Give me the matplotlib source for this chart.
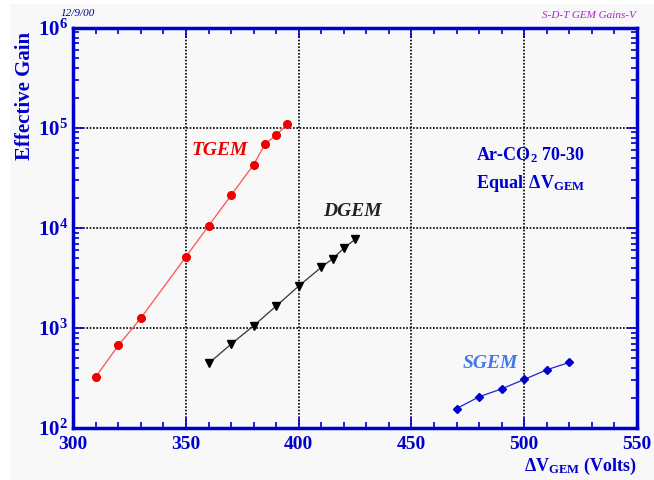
import math
import matplotlib
matplotlib.use("Agg")
import matplotlib.pyplot as plt
from matplotlib.patches import Rectangle
from matplotlib.ticker import FuncFormatter, MultipleLocator, LogLocator, NullFormatter

plt.rcParams['font.family'] = ['Liberation Serif', 'DejaVu Serif']
plt.rcParams['mathtext.fontset'] = 'custom'
plt.rcParams['mathtext.rm'] = 'Liberation Serif:bold'
plt.rcParams['mathtext.bf'] = 'Liberation Serif:bold'
plt.rcParams['mathtext.it'] = 'Liberation Serif:bold:italic'

# data
tgem_v = [310, 320, 330, 350, 360, 370, 380, 385, 390, 395]
tgem_gain = [326, 671, 1260, 5170, 10500, 21200, 43000, 68700, 85000, 109000]

dgem_v = [360, 370, 380, 390, 400, 410, 415, 420, 425]
dgem_gain = [443, 692, 1055, 1660, 2630, 4050, 4930, 6270, 7710]

sgem_v = [470, 480, 490, 500, 510, 520]
sgem_gain = [157, 206, 247, 307, 383, 454]

blue = '#0000cc'
bg = '#f8f8f8'

fig = plt.figure(figsize=(6.54, 4.80), dpi=100, facecolor='white')
# grey page area with a thin white border on the left and top
fig.patches.append(Rectangle((10 / 654, 0), 1, 1 - 4 / 480, transform=fig.transFigure,
                             facecolor=bg, edgecolor='none', zorder=-10))

ax = fig.add_axes([0.112, 0.108, 0.862, 0.834])
ax.set_facecolor(bg)

ax.plot(tgem_v, tgem_gain, color='#ff5050', lw=0.9, marker='o', ms=5.5,
        mfc='#ee0000', mec='#ee0000')
ax.plot(dgem_v, dgem_gain, color='#333333', lw=0.9, marker='v', ms=5.5,
        mfc='black', mec='black')
ax.plot(sgem_v, sgem_gain, color='#2020dd', lw=0.9, marker='D', ms=4,
        mfc='#0000cc', mec='#0000cc')

ax.set_yscale('log')
ax.set_xlim(300, 550)
ax.set_ylim(1e2, 1e6)

ax.xaxis.set_major_locator(MultipleLocator(50))
ax.xaxis.set_minor_locator(MultipleLocator(10))
ax.yaxis.set_major_locator(LogLocator(base=10))
ax.yaxis.set_minor_locator(LogLocator(base=10, subs=range(2, 10)))
ax.yaxis.set_minor_formatter(NullFormatter())
ax.yaxis.set_major_formatter(FuncFormatter(lambda v, p: r'$\mathbf{10^{%d}}$' % round(math.log10(v))))

ax.tick_params(which='both', direction='in', top=True, right=True, color=blue,
               labelcolor=blue)
ax.tick_params(which='major', length=7, width=1.2)
ax.tick_params(which='minor', length=4, width=1.2)
ax.tick_params(axis='x', labelsize=14, pad=6)
ax.tick_params(axis='y', labelsize=15, pad=4)
for lab in ax.get_xticklabels():
    lab.set_fontweight('bold')

for s in ax.spines.values():
    s.set_color(blue)
    s.set_linewidth(2.5)

ax.grid(which='major', color='black', linestyle=(0, (1, 1)), lw=1.2)

ax.set_ylabel('Effective Gain', color=blue, fontsize=15, fontweight='bold')
ax.yaxis.set_label_coords(-0.068, 0.83)
ax.set_xlabel(r'$\mathbf{\Delta V_{GEM}}$ (Volts)', color=blue, fontsize=13,
              fontweight='bold', loc='right', labelpad=2)

ax.text(365, 6.0e4, 'TGEM', color='#ee0000', fontsize=14, fontweight='bold',
        style='italic', ha='center', va='center')
ax.text(424, 1.45e4, 'DGEM', color='#222222', fontsize=14, fontweight='bold',
        style='italic', ha='center', va='center')
ax.text(485, 445, 'SGEM', color='#4477ee', fontsize=14, fontweight='bold',
        style='italic', ha='center', va='center')
ax.text(478.5, 5.4e4, r'Ar-CO$_\mathbf{2}$ 70-30', color=blue, fontsize=13,
        fontweight='bold', ha='left', va='center')
ax.text(478.5, 2.8e4, r'Equal $\mathbf{\,\Delta V_{GEM}}$', color=blue, fontsize=13,
        fontweight='bold', ha='left', va='center')

fig.text(0.092, 0.967, '12/9/00', color='#000088', fontsize=8, style='italic')
fig.text(0.973, 0.963, 'S-D-T GEM Gains-V', color='#aa22cc', fontsize=8,
         style='italic', ha='right')

fig.savefig('out.png', dpi=100, facecolor='white')
